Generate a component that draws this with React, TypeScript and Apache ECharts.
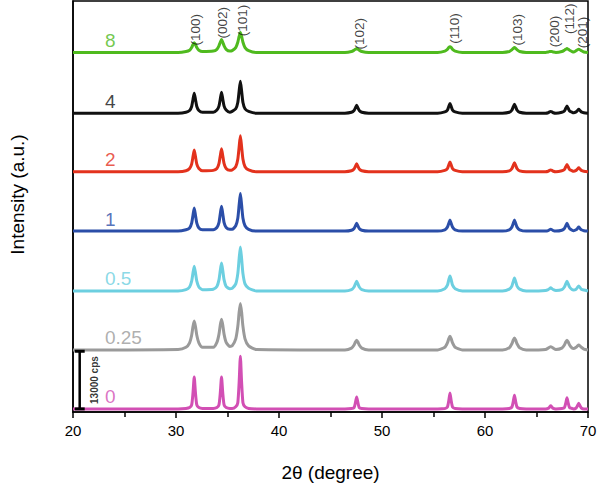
import React, { useEffect, useRef } from "react";
import * as echarts from "echarts";

// 2θ sample positions (degrees) shared by all patterns
const twoTheta = [
  20, 30.2,
  30.97, 31.32, 31.52, 31.65, 31.77, 31.89, 32.02, 32.22, 32.57,
  33.62, 33.97, 34.17, 34.3, 34.42, 34.54, 34.67, 34.87, 35.22,
  35.45, 35.8, 36.0, 36.13, 36.25, 36.37, 36.5, 36.7, 37.05,
  37.8, 46.4,
  47.04, 47.29, 47.42, 47.54, 47.66, 47.79, 48.04,
  48.7, 55.4,
  56.1, 56.35, 56.48, 56.6, 56.72, 56.85, 57.1,
  57.8, 61.7,
  62.36, 62.61, 62.74, 62.86, 62.98, 63.11, 63.36,
  64.0, 65.2,
  65.88, 66.13, 66.26, 66.38, 66.5, 66.63, 66.88,
  67.46, 67.71, 67.84, 67.96, 68.08, 68.21, 68.46,
  68.6, 68.85, 68.98, 69.1, 69.22, 69.35, 69.6,
  70,
];

// Intensity above each pattern's own baseline (cps)
const int0 = [
  0, 0,
  100, 300, 900, 3600, 7200, 3600, 900, 300, 100,
  100, 300, 900, 3600, 7200, 3600, 900, 300, 100,
  100, 500, 1400, 6000, 11900, 6000, 1400, 500, 100,
  0, 0,
  100, 300, 1400, 2700, 1400, 300, 100,
  0, 0,
  100, 400, 1800, 3600, 1800, 400, 100,
  0, 0,
  100, 400, 1600, 3100, 1600, 400, 100,
  0, 0,
  0, 100, 400, 700, 400, 100, 0,
  100, 300, 1300, 2500, 1300, 300, 100,
  0, 200, 700, 1300, 700, 200, 0,
  0,
];
const int025 = [
  0, 100,
  600, 1600, 3300, 5300, 6500, 5300, 3300, 1600, 600,
  600, 1700, 3500, 5600, 6900, 5600, 3500, 1700, 800,
  900, 2500, 5300, 8500, 10500, 8500, 5300, 2500, 900,
  100, 0,
  400, 1100, 1800, 2200, 1800, 1100, 400,
  0, 0,
  600, 1600, 2500, 3100, 2500, 1600, 600,
  0, 0,
  500, 1400, 2200, 2700, 2200, 1400, 500,
  0, 0,
  100, 400, 600, 700, 600, 400, 100,
  400, 1100, 1800, 2200, 1800, 1100, 400,
  300, 600, 900, 1100, 900, 600, 200,
  0,
];
const int05 = [
  0, 0,
  300, 900, 2200, 4100, 5600, 4100, 2200, 900, 300,
  400, 1000, 2500, 4600, 6300, 4600, 2500, 1000, 500,
  600, 1600, 3900, 7300, 9900, 7300, 3900, 1600, 600,
  0, 0,
  300, 900, 1600, 2200, 1600, 900, 300,
  0, 0,
  500, 1300, 2500, 3400, 2500, 1300, 500,
  0, 0,
  400, 1100, 2100, 2900, 2100, 1100, 400,
  0, 0,
  100, 300, 500, 700, 500, 300, 100,
  300, 900, 1600, 2200, 1600, 900, 300,
  200, 400, 800, 1100, 800, 400, 200,
  0,
];
const int1 = [
  0, 0,
  300, 700, 1800, 3600, 5200, 3600, 1800, 700, 300,
  300, 800, 1900, 3900, 5600, 3900, 1900, 800, 400,
  400, 1200, 2900, 5900, 8500, 5900, 2900, 1200, 400,
  0, 0,
  200, 600, 1200, 1800, 1200, 600, 200,
  0, 0,
  300, 900, 1700, 2500, 1700, 900, 300,
  0, 0,
  300, 900, 1700, 2500, 1700, 900, 300,
  0, 0,
  0, 100, 300, 400, 300, 100, 0,
  200, 600, 1200, 1800, 1200, 600, 200,
  100, 300, 600, 900, 600, 300, 100,
  0,
];
const int2 = [
  0, 0,
  200, 700, 1700, 3400, 4900, 3400, 1700, 700, 200,
  300, 700, 1800, 3600, 5200, 3600, 1800, 700, 300,
  400, 1100, 2800, 5600, 8100, 5600, 2800, 1100, 400,
  0, 0,
  200, 600, 1200, 1800, 1200, 600, 200,
  0, 0,
  300, 700, 1500, 2200, 1500, 700, 300,
  0, 0,
  200, 700, 1400, 2000, 1400, 700, 200,
  0, 0,
  0, 100, 300, 400, 300, 100, 0,
  200, 500, 1100, 1600, 1100, 500, 200,
  100, 300, 600, 900, 600, 300, 100,
  0,
];
const int4 = [
  0, 0,
  200, 600, 1500, 3100, 4500, 3100, 1500, 600, 200,
  200, 700, 1600, 3200, 4700, 3200, 1600, 700, 200,
  400, 1000, 2400, 5000, 7200, 5000, 2400, 1000, 400,
  0, 0,
  200, 600, 1200, 1800, 1200, 600, 200,
  0, 0,
  300, 700, 1500, 2200, 1500, 700, 300,
  0, 0,
  200, 700, 1400, 2000, 1400, 700, 200,
  0, 0,
  0, 100, 300, 400, 300, 100, 0,
  200, 500, 1100, 1600, 1100, 500, 200,
  100, 300, 600, 900, 600, 300, 100,
  0,
];
const int8 = [
  0, 0,
  200, 500, 1100, 1800, 2200, 1800, 1100, 500, 200,
  300, 700, 1500, 2300, 2900, 2300, 1500, 700, 300,
  400, 1100, 2300, 3600, 4500, 3600, 2300, 1100, 400,
  0, 0,
  200, 500, 700, 900, 700, 500, 200,
  0, 0,
  300, 700, 1100, 1300, 1100, 700, 300,
  0, 0,
  200, 600, 900, 1100, 900, 600, 200,
  0, 0,
  0, 100, 200, 200, 200, 100, 0,
  200, 500, 700, 900, 700, 500, 200,
  100, 400, 600, 700, 600, 400, 100,
  0,
];

const sampleNames = ["0", "0.25", "0.5", "1", "2", "4", "8"];
const sampleIntensities = [int0, int025, int05, int1, int2, int4, int8];
const stackOffsets = [700, 14000, 27300, 40800, 54200, 67400, 81100];
const sampleColors = ["#d24fb4", "#9a9a9a", "#6ccfe0", "#2b4ea8", "#e3321d", "#111111", "#4fba1e"];
const nameLabelTheta = 23.1;
const nameLabelLift = 2700;

// Miller index annotations
const hklLabels = ["(100)", "(002)", "(101)", "(102)", "(110)", "(103)", "(200)", "(112)", "(201)"];
const hklTheta = [31.85, 34.55, 36.45, 47.85, 57.05, 63.2, 66.7, 68.2, 69.45];
const hklHeight = [86200, 87800, 88300, 85300, 86500, 86200, 85800, 88700, 85600];

// Scale bar
const scaleBarCps = 13000;
const scaleBarTheta = 20.65;
const scaleBarText = "13000 cps";
const scaleTextTheta = 22.1;

const FONT = "'Liberation Sans', Arial, Helvetica, sans-serif";

export default function App() {
  const ref = useRef<HTMLDivElement>(null);
  useEffect(() => {
    if (!ref.current) return;
    const chart = echarts.init(ref.current, undefined, { renderer: "svg" });

    const lineSeries: any[] = sampleNames.map((name, k) => ({
      type: "line",
      name,
      showSymbol: false,
      smooth: 0.2,
      z: 3,
      lineStyle: { color: sampleColors[k], width: 3 },
      itemStyle: { color: sampleColors[k] },
      data: twoTheta.map((t, i) => [t, sampleIntensities[k][i] + stackOffsets[k]]),
    }));

    const nameSeries = {
      type: "scatter",
      symbolSize: 0,
      z: 4,
      data: sampleNames.map((name, k) => ({
        value: [nameLabelTheta, stackOffsets[k] + nameLabelLift],
        label: {
          show: true,
          position: "right",
          distance: 0,
          formatter: name,
          color: sampleColors[k],
          fontSize: 19,
          fontFamily: FONT,
        },
      })),
    };

    const hklSeries = {
      type: "scatter",
      symbolSize: 0,
      z: 4,
      data: hklLabels.map((h, i) => ({
        value: [hklTheta[i], hklHeight[i]],
        label: {
          show: true,
          position: "inside",
          rotate: 90,
          formatter: h,
          color: "#111",
          fontSize: 13.5,
          fontFamily: FONT,
        },
      })),
    };

    const scaleSeries = {
      type: "line",
      symbol: "rect",
      symbolSize: [10, 3],
      showSymbol: true,
      z: 5,
      lineStyle: { color: "#000", width: 2.5 },
      itemStyle: { color: "#000" },
      data: [
        [scaleBarTheta, stackOffsets[0]],
        [scaleBarTheta, stackOffsets[0] + scaleBarCps],
      ],
    };

    const scaleTextSeries = {
      type: "scatter",
      symbolSize: 0,
      z: 5,
      data: [
        {
          value: [scaleTextTheta, stackOffsets[0] + scaleBarCps / 2],
          label: {
            show: true,
            position: "inside",
            rotate: 90,
            formatter: scaleBarText,
            color: "#000",
            fontSize: 10,
            fontWeight: "bold",
            fontFamily: FONT,
          },
        },
      ],
    };

    chart.setOption({
      animation: false,
      backgroundColor: "#fff",
      grid: {
        left: 66,
        right: 12,
        top: 1,
        bottom: 71,
        show: true,
        borderColor: "#000",
        borderWidth: 1.5,
      },
      xAxis: {
        type: "value",
        min: 20,
        max: 70,
        interval: 10,
        name: "2θ (degree)",
        nameLocation: "middle",
        nameGap: 51,
        nameTextStyle: { fontSize: 19, color: "#000", fontFamily: FONT },
        axisLine: { show: true, onZero: false, lineStyle: { color: "#000", width: 1.5 } },
        axisTick: { show: true, inside: false, length: 6, lineStyle: { color: "#000", width: 1.5 } },
        minorTick: { show: true, splitNumber: 2, length: 5, lineStyle: { color: "#000", width: 1.5 } },
        splitLine: { show: false },
        axisLabel: { fontSize: 15, color: "#000", margin: 11, fontFamily: FONT },
      },
      yAxis: {
        type: "value",
        min: 0,
        max: 92700,
        name: "Intensity (a.u.)",
        nameLocation: "middle",
        nameGap: 46,
        nameTextStyle: { fontSize: 19, color: "#000", fontFamily: FONT, padding: [0, 0, 0, 24] },
        axisLine: { show: true, lineStyle: { color: "#000", width: 1.5 } },
        axisTick: { show: false },
        axisLabel: { show: false },
        splitLine: { show: false },
      },
      series: [...lineSeries, nameSeries, hklSeries, scaleSeries, scaleTextSeries],
    });

    return () => chart.dispose();
  }, []);

  return (
    <div
      ref={ref}
      style={{ position: "absolute", left: 0, top: 0, width: 600, height: 487 }}
    />
  );
}
